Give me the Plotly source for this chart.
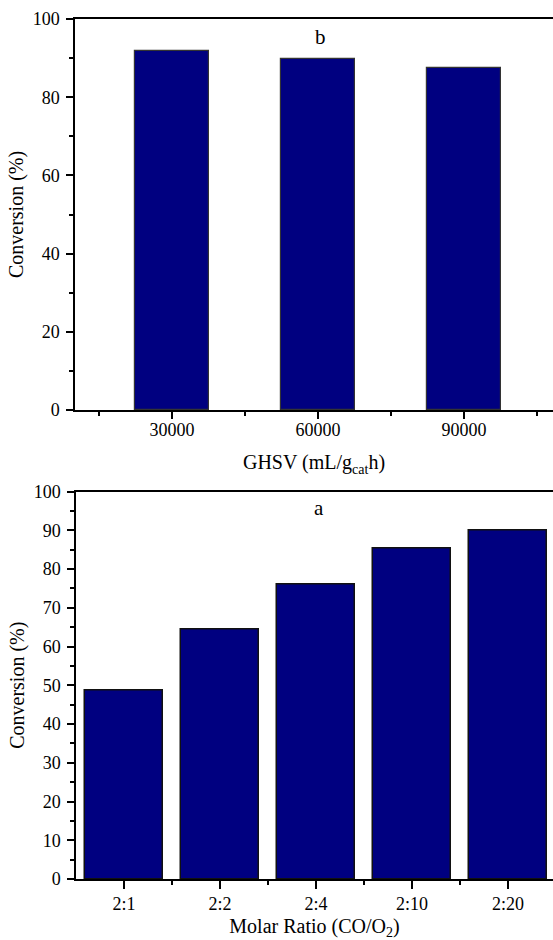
import plotly.graph_objects as go

# Top panel (b): conversion vs GHSV
ghsv_labels = ["30000", "60000", "90000"]
ghsv_conv = [91.8, 89.8, 87.4]

# Bottom panel (a): conversion vs molar ratio
ratio_labels = ["2:1", "2:2", "2:4", "2:10", "2:20"]
ratio_conv = [48.7, 64.4, 76.0, 85.3, 90.0]

FONT = "Liberation Serif, Times New Roman, serif"
NAVY = "#000080"
W, H = 553, 940
TICK_SIZE = 18
TITLE_SIZE = 20

fig = go.Figure()

fig.add_trace(go.Bar(
    x=list(range(len(ghsv_labels))), y=ghsv_conv, width=0.51,
    marker=dict(color=NAVY, line=dict(color="#333333", width=1.2)),
    xaxis="x", yaxis="y", showlegend=False))

fig.add_trace(go.Bar(
    x=list(range(len(ratio_labels))), y=ratio_conv, width=0.81,
    marker=dict(color=NAVY, line=dict(color="#111111", width=1.5)),
    xaxis="x2", yaxis="y2", showlegend=False))

axis_common = dict(
    showgrid=False, zeroline=False, showline=True, linecolor="black",
    linewidth=1.5, ticks="outside", tickcolor="black", tickwidth=1.5,
    tickfont=dict(family=FONT, size=TICK_SIZE, color="black"),
    automargin=False,
)
title_font = dict(family=FONT, size=TITLE_SIZE, color="black")
minor_common = dict(ticklen=4, ticks="outside", tickcolor="black", tickwidth=1.5)


def ypix(top, bottom):
    return [1 - bottom / H, 1 - top / H]


fig.update_layout(
    width=W, height=H, margin=dict(l=0, r=0, t=0, b=0, autoexpand=False),
    paper_bgcolor="white", plot_bgcolor="white",
    font=dict(family=FONT, color="black"),
    bargap=0,
    xaxis=dict(
        **axis_common, domain=[75 / W, 1], anchor="y",
        range=[-0.664, 2.61], tickmode="array",
        tickvals=list(range(len(ghsv_labels))), ticktext=ghsv_labels,
        ticklen=7, mirror=True, ticklabelstandoff=-4,
        minor=dict(tickmode="array", tickvals=[-0.5, 0.5, 1.5, 2.5], **minor_common),
        title=dict(text="GHSV (mL/g<sub>cat</sub>h)", standoff=16, font=title_font),
    ),
    yaxis=dict(
        **axis_common, domain=ypix(19, 410), anchor="x",
        range=[0, 100], tickmode="linear", tick0=0, dtick=20, ticklen=7,
        ticklabelstandoff=3,
        minor=dict(tickmode="linear", tick0=10, dtick=20, **minor_common),
        title=dict(text="Conversion (%)", standoff=4, font=title_font),
    ),
    xaxis2=dict(
        **axis_common, domain=[76 / W, 1], anchor="y2",
        range=[-0.5, 4.47], tickmode="array",
        tickvals=list(range(len(ratio_labels))), ticktext=ratio_labels,
        ticklen=8, mirror=True,
        minor=dict(tickmode="array", tickvals=[0.5, 1.5, 2.5, 3.5], **minor_common),
        title=dict(text="Molar Ratio (CO/O<sub>2</sub>)", standoff=8, font=title_font),
    ),
    yaxis2=dict(
        **axis_common, domain=ypix(491.5, 879), anchor="x2",
        range=[0, 100], tickmode="linear", tick0=0, dtick=10, ticklen=7,
        ticklabelstandoff=3,
        minor=dict(tickmode="linear", tick0=5, dtick=10, **minor_common),
        title=dict(text="Conversion (%)", standoff=4, font=title_font),
    ),
    annotations=[
        dict(text="b", xref="paper", yref="paper", x=320 / W, y=1 - 37 / H,
             xanchor="center", yanchor="middle",
             showarrow=False, font=dict(family=FONT, size=21, color="black")),
        dict(text="a", xref="paper", yref="paper", x=319 / W, y=1 - 508 / H,
             xanchor="center", yanchor="middle",
             showarrow=False, font=dict(family=FONT, size=21, color="black")),
    ],
)

fig.write_html("out.html")
